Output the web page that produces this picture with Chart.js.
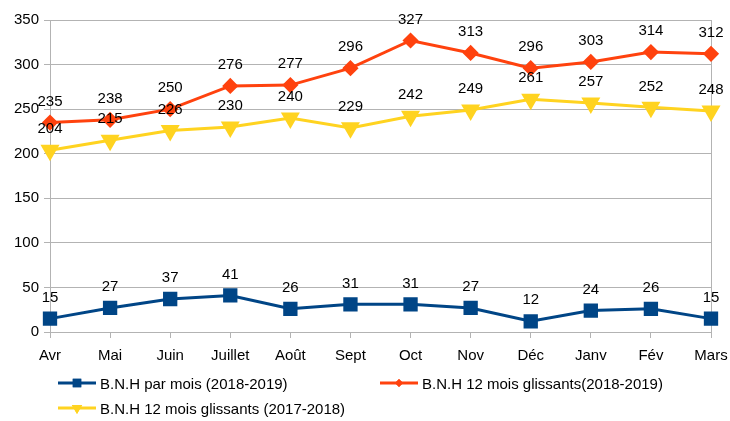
<!DOCTYPE html>
<html>
<head>
<meta charset="utf-8">
<script src="https://cdn.jsdelivr.net/npm/chart.js@4"></script>
<style>
  html, body { margin: 0; padding: 0; background: #fff; }
  #wrap { position: relative; width: 730px; height: 421px; }
  #legend { position: absolute; left: 0; top: 0; font: 15px "Liberation Sans", Arial, sans-serif; color: #000; }
  .item { position: absolute; display: flex; align-items: center; white-space: nowrap; }
  .item canvas { margin-right: 4px; }
</style>
</head>
<body>
<div id="wrap">
  <canvas id="chart" width="730" height="421"></canvas>
  <div id="legend"></div>
</div>
<script>
const months = ["Avr", "Mai", "Juin", "Juillet", "Août", "Sept", "Oct", "Nov", "Déc", "Janv", "Fév", "Mars"];
const parMois = [15, 27, 37, 41, 26, 31, 31, 27, 12, 24, 26, 15];
const glissants1819 = [235, 238, 250, 276, 277, 296, 327, 313, 296, 303, 314, 312];
const glissants1718 = [204, 215, 226, 230, 240, 229, 242, 249, 261, 257, 252, 248];

const BLUE = "#004586";
const ORANGE = "#ff420e";
const YELLOW = "#ffd320";
const GRID = "#b3b3b3";
const FONT = { family: "'Liberation Sans', Arial, sans-serif", size: 15 };

const valueLabels = {
    id: "valueLabels",
    afterDatasetsDraw(chart) {
        const ctx = chart.ctx;
        ctx.save();
        ctx.font = "15px 'Liberation Sans', Arial, sans-serif";
        ctx.fillStyle = "#000";
        ctx.textAlign = "center";
        ctx.textBaseline = "middle";
        chart.data.datasets.forEach((ds, i) => {
            chart.getDatasetMeta(i).data.forEach((pt, j) => {
                ctx.fillText(ds.data[j], pt.x, pt.y - 21);
            });
        });
        ctx.restore();
    }
};

const ctx = document.getElementById("chart").getContext("2d");
const chart = new Chart(ctx, {
    type: "line",
    data: {
        labels: months,
        datasets: [
            {
                label: "B.N.H 12 mois glissants (2017-2018)",
                data: glissants1718,
                borderColor: YELLOW,
                backgroundColor: YELLOW,
                borderWidth: 3,
                pointStyle: "triangle",
                rotation: 180,
                pointRadius: 8,
                tension: 0
            },
            {
                label: "B.N.H 12 mois glissants(2018-2019)",
                data: glissants1819,
                borderColor: ORANGE,
                backgroundColor: ORANGE,
                borderWidth: 3,
                pointStyle: "rectRot",
                pointRadius: 6,
                tension: 0
            },
            {
                label: "B.N.H par mois (2018-2019)",
                data: parMois,
                borderColor: BLUE,
                backgroundColor: BLUE,
                borderWidth: 3,
                pointStyle: "rect",
                pointRadius: 8,
                tension: 0
            }
        ]
    },
    options: {
        responsive: false,
        animation: false,
        layout: { padding: { top: 20, right: 19, bottom: 49, left: 0 } },
        plugins: {
            legend: { display: false },
            tooltip: { enabled: false }
        },
        scales: {
            x: {
                offset: false,
                afterFit: (s) => { s.height = 40; s.paddingLeft = 0; s.paddingRight = 0; },
                grid: {
                    color: (c) => (c.index === months.length - 1 ? GRID : "transparent"),
                    tickColor: GRID,
                    tickLength: 6
                },
                border: { color: GRID },
                ticks: { color: "#000", font: FONT, padding: 9, maxRotation: 0, autoSkip: false }
            },
            y: {
                min: 0,
                max: 350,
                afterFit: (s) => { s.width = 50; s.paddingTop = 0; s.paddingBottom = 0; },
                ticks: { stepSize: 50, color: "#000", font: FONT, padding: 5 },
                grid: { color: GRID, tickLength: 6 },
                border: { color: GRID }
            }
        }
    },
    plugins: [valueLabels]
});

// legend built from the datasets
const legendPos = [
    { ds: 2, left: 58, top: 373 },
    { ds: 1, left: 380, top: 373 },
    { ds: 0, left: 58, top: 398 }
];
const legend = document.getElementById("legend");
legendPos.forEach((p) => {
    const ds = chart.data.datasets[p.ds];
    const item = document.createElement("div");
    item.className = "item";
    item.style.left = p.left + "px";
    item.style.top = p.top + "px";
    const c = document.createElement("canvas");
    c.width = 38; c.height = 20;
    const g = c.getContext("2d");
    g.strokeStyle = ds.borderColor;
    g.fillStyle = ds.borderColor;
    g.lineWidth = 3;
    g.beginPath(); g.moveTo(0, 10); g.lineTo(38, 10); g.stroke();
    Chart.helpers.drawPoint(g, { pointStyle: ds.pointStyle, radius: ds.pointRadius - 2, rotation: ds.rotation || 0, borderWidth: 0 }, 19, 10);
    g.fill();
    item.appendChild(c);
    const t = document.createElement("span");
    t.textContent = ds.label;
    item.appendChild(t);
    legend.appendChild(item);
});
</script>
</body>
</html>
